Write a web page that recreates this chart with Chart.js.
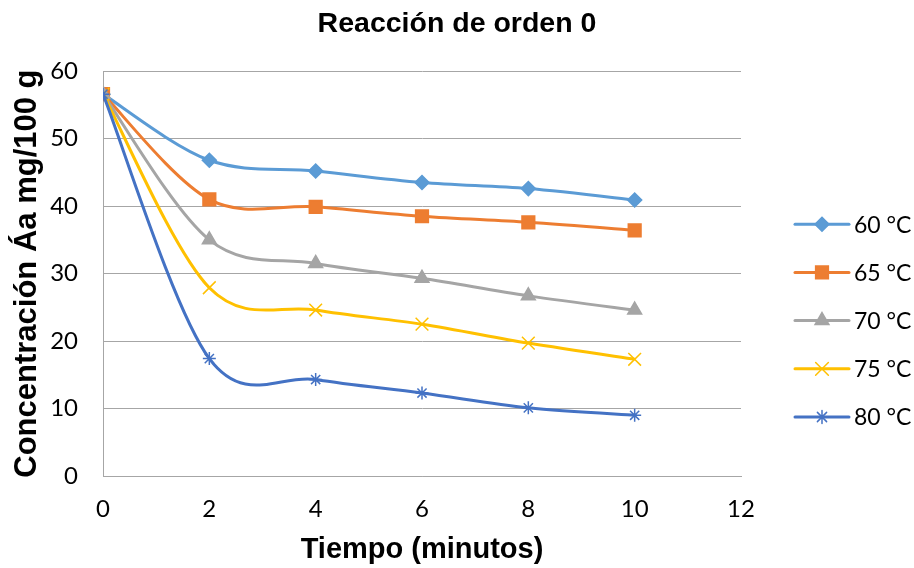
<!DOCTYPE html>
<html>
<head>
<meta charset="utf-8">
<script src="https://cdn.jsdelivr.net/npm/chart.js@4"></script>
<style>
  html, body { margin: 0; padding: 0; background: #fff; }
  #wrap { width: 914px; height: 568px; }
</style>
</head>
<body>
<div id="wrap"><canvas id="reaccion"></canvas></div>
<script>
// Tiempo (minutos)
const tiempos = [0, 2, 4, 6, 8, 10];

// Concentración Áa mg/100 g por temperatura
const serie60 = [56.6, 46.8, 45.2, 43.5, 42.6, 40.9];
const serie65 = [56.6, 41.0, 39.9, 38.5, 37.6, 36.4];
const serie70 = [56.6, 35.0, 31.5, 29.3, 26.7, 24.6];
const serie75 = [56.6, 27.9, 24.6, 22.5, 19.7, 17.3];
const serie80 = [56.6, 17.4, 14.3, 12.3, 10.1, 9.0];

const etiquetas = ['60 °C', '65 °C', '70 °C', '75 °C', '80 °C'];
const xTicks = [0, 2, 4, 6, 8, 10, 12];

const colores = ['#5B9BD5', '#ED7D31', '#A5A5A5', '#FFC000', '#4472C4'];
const marcadores = ['rectRot', 'rect', 'triangle', 'crossRot', 'star'];
const radios = [7, 9, 8, 9, 6.5];

const fuenteTexto = 'Lato, "Open Sans", sans-serif';
const fuenteTitulo = '"Liberation Sans", Arial, sans-serif';

function puntos(ys) {
  return tiempos.map((t, i) => ({ x: t, y: ys[i] }));
}

// Excel style smoothing: catmull-rom control points (1/6 of neighbour span)
const suavizadoExcel = {
  id: 'suavizadoExcel',
  beforeDatasetDraw(chart, args) {
    const meta = args.meta;
    const pts = meta.data;
    if (!meta.dataset || !pts.length) return;
    meta.dataset.updateControlPoints(chart.chartArea, 'x');
    pts.forEach((p, i) => {
      const prev = pts[i - 1] || p;
      const next = pts[i + 1] || p;
      const dx = (next.x - prev.x) / 6;
      const dy = (next.y - prev.y) / 6;
      p.cp1x = p.x - dx; p.cp1y = p.y - dy;
      p.cp2x = p.x + dx; p.cp2y = p.y + dy;
    });
  }
};

// legend on the right: line + marker + label, like Excel
const leyendaExcel = {
  id: 'leyendaExcel',
  afterDraw(chart) {
    const { ctx, chartArea } = chart;
    chart.data.datasets.forEach((ds, i) => {
      const y = chartArea.top + 153 + 48.2 * i;
      const x0 = chartArea.right + 54;
      ctx.save();
      ctx.strokeStyle = ds.borderColor;
      ctx.lineWidth = 3;
      ctx.lineCap = 'round';
      ctx.beginPath();
      ctx.moveTo(x0, y);
      ctx.lineTo(x0 + 54, y);
      ctx.stroke();
      ctx.fillStyle = ds.backgroundColor;
      ctx.lineWidth = ds.pointBorderWidth;
      Chart.helpers.drawPoint(ctx, {
        pointStyle: ds.pointStyle,
        radius: ds.pointRadius,
        borderWidth: ds.pointBorderWidth,
        rotation: 0
      }, x0 + 27, y);
      ctx.fillStyle = '#000';
      ctx.font = '23px ' + fuenteTexto;
      ctx.textBaseline = 'middle';
      ctx.textAlign = 'left';
      ctx.fillText(ds.label, x0 + 59, y + 1);
      ctx.restore();
    });
  }
};

const series = [serie60, serie65, serie70, serie75, serie80];

const datasets = series.map((s, i) => ({
  label: etiquetas[i],
  data: puntos(s),
  borderColor: colores[i],
  backgroundColor: colores[i],
  borderWidth: 3,
  tension: 0.4,
  pointStyle: marcadores[i],
  pointRadius: radios[i],
  pointBorderWidth: 1.5,
  pointBorderColor: colores[i],
  pointBackgroundColor: colores[i],
  order: 4 - i
}));

const ctx = document.getElementById('reaccion').getContext('2d');

new Chart(ctx, {
  type: 'line',
  data: { datasets: datasets },
  plugins: [suavizadoExcel, leyendaExcel],
  options: {
    responsive: true,
    maintainAspectRatio: false,
    animation: false,
    layout: { padding: { top: 2, right: 0, left: 0, bottom: 1 } },
    scales: {
      x: {
        type: 'linear',
        min: 0,
        max: 12,
        afterBuildTicks: (axis) => { axis.ticks = xTicks.map(v => ({ value: v })); },
        afterFit: (scale) => { scale.height = 91; },
        grid: { display: false, drawTicks: false },
        border: { display: true, color: '#A6A6A6', width: 1 },
        ticks: {
          padding: 19,
          color: '#000',
          maxRotation: 0,
          font: { family: fuenteTexto, size: 24 }
        },
        title: {
          display: true,
          text: 'Tiempo (minutos)',
          color: '#000',
          padding: { top: 8, bottom: 0 },
          font: { family: fuenteTitulo, size: 29, weight: 'bold' }
        }
      },
      y: {
        min: 0,
        max: 60,
        afterFit: (scale) => { scale.width = 103; },
        ticks: {
          stepSize: 10,
          padding: 25,
          color: '#000',
          font: { family: fuenteTexto, size: 24 }
        },
        grid: { drawTicks: false, color: '#A6A6A6', lineWidth: 1 },
        border: { display: true, color: '#A6A6A6', width: 1 },
        title: {
          display: true,
          text: 'Concentración Áa mg/100 g',
          color: '#000',
          padding: { top: 9, bottom: 4 },
          font: { family: fuenteTitulo, size: 31, weight: 'bold' }
        }
      },
      // empty right-hand axis, only keeps room for the legend
      leyenda: {
        position: 'right',
        min: 0,
        max: 60,
        afterFit: (scale) => { scale.width = 173; },
        grid: { display: false, drawTicks: false },
        border: { display: false },
        ticks: { display: false }
      }
    },
    plugins: {
      title: {
        display: true,
        text: 'Reacción de orden 0',
        color: '#000',
        padding: { top: 5, bottom: 30 },
        font: { family: fuenteTitulo, size: 28.5, weight: 'bold' }
      },
      legend: { display: false },
      tooltip: { enabled: false }
    }
  }
});
</script>
</body>
</html>
